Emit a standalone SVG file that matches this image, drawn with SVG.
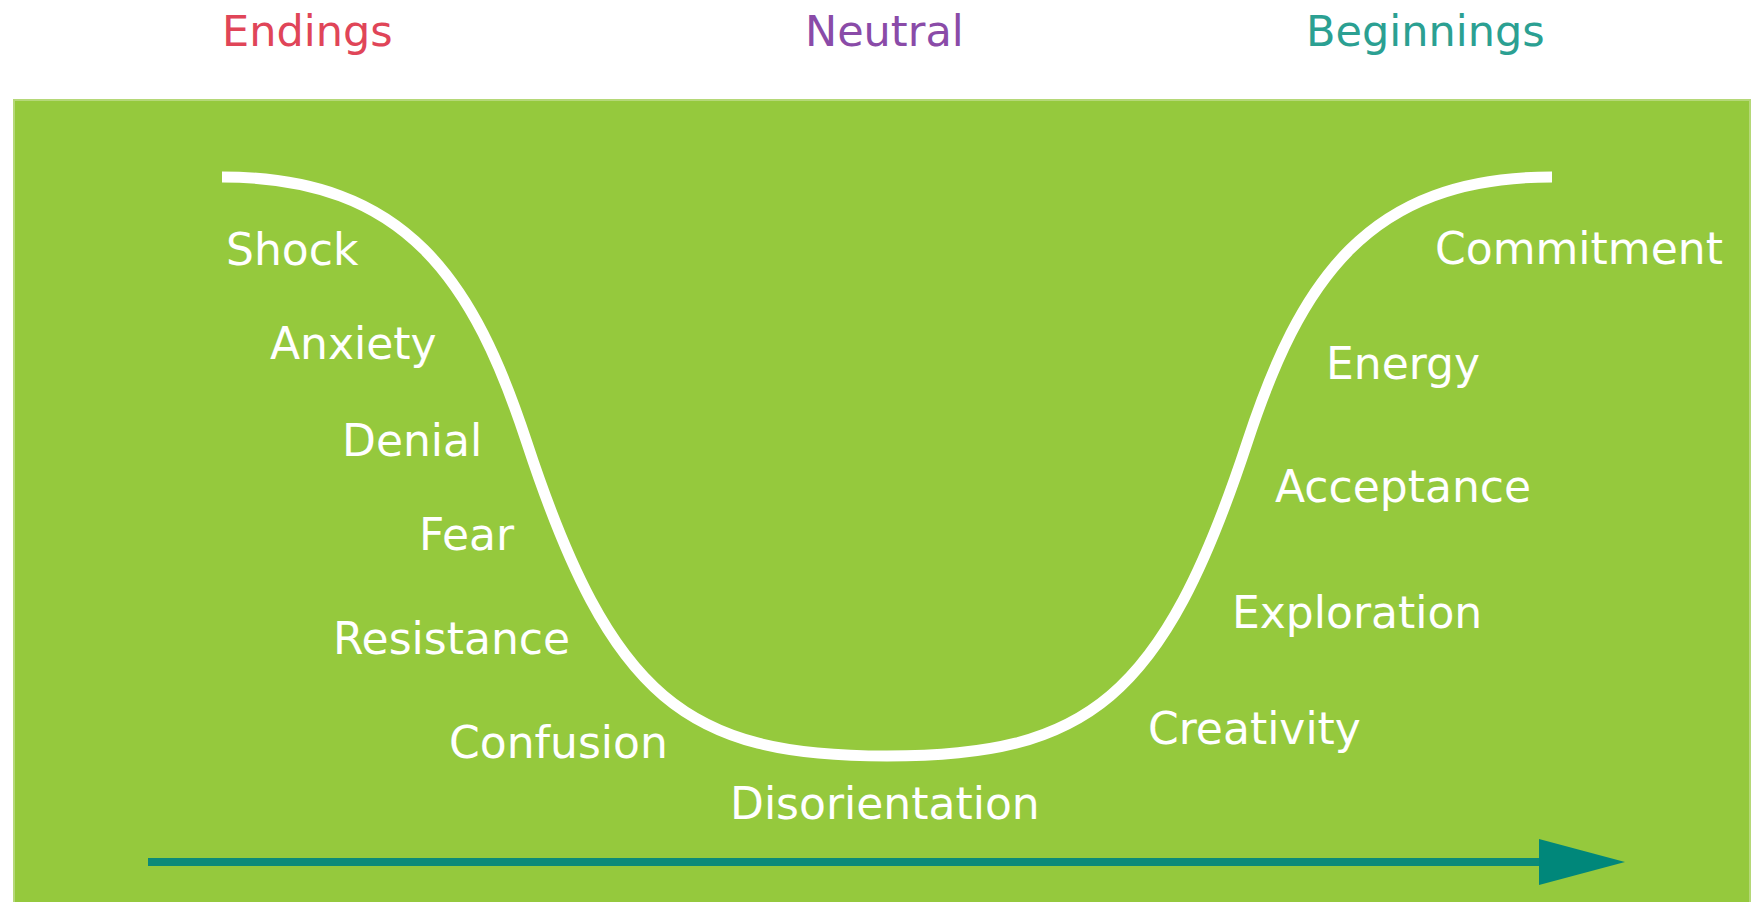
<svg xmlns="http://www.w3.org/2000/svg" width="1754" height="902" viewBox="0 0 1754 902">
<style>
.hdr{font-family:"DejaVu Sans",Verdana,sans-serif;font-size:43px}
.lbl{font-family:"DejaVu Sans",Verdana,sans-serif;font-size:44px;fill:#ffffff}
</style>
<defs>
<marker id="ah" markerUnits="userSpaceOnUse" markerWidth="90" markerHeight="46" refX="0" refY="23" orient="auto">
<path d="M0,0 L86,23 L0,46 Z" fill="#00877A"/>
</marker>
</defs>
<rect width="1754" height="902" fill="#ffffff"/>
<rect id="panel" x="14" y="100" width="1736" height="810" fill="#95C93D" stroke="#B5D878" stroke-width="2"/>
<g id="headers">
<text id="endings" class="hdr" x="222" y="46" fill="#E04558">Endings</text>
<text id="neutral" class="hdr" x="805" y="46" fill="#8A4BA8">Neutral</text>
<text id="beginnings" class="hdr" x="1306" y="46" fill="#2BA092">Beginnings</text>
</g>
<g id="connectors">
<path id="curve" d="M222,177 C407,177 474,281.5 527,443 C611.5,699.5 687,756 887,756 C1087,756 1162.5,699.5 1247,443 C1300,281.5 1367,177 1552,177" fill="none" stroke="#ffffff" stroke-width="11"/>
<line id="timeline" x1="148" y1="862" x2="1539" y2="862" stroke="#0B8A78" stroke-width="8" marker-end="url(#ah)"/>
</g>
<g id="labels">
<text id="shock" class="lbl" x="226" y="265">Shock</text>
<text id="anxiety" class="lbl" x="270" y="359">Anxiety</text>
<text id="denial" class="lbl" x="342" y="456">Denial</text>
<text id="fear" class="lbl" x="419" y="550">Fear</text>
<text id="resistance" class="lbl" x="333" y="654">Resistance</text>
<text id="confusion" class="lbl" x="449" y="758">Confusion</text>
<text id="disorientation" class="lbl" x="730" y="819">Disorientation</text>
<text id="creativity" class="lbl" x="1148" y="744">Creativity</text>
<text id="exploration" class="lbl" x="1232" y="628">Exploration</text>
<text id="acceptance" class="lbl" x="1275" y="502">Acceptance</text>
<text id="energy" class="lbl" x="1326" y="379">Energy</text>
<text id="commitment" class="lbl" x="1435" y="264">Commitment</text>
</g>
</svg>
